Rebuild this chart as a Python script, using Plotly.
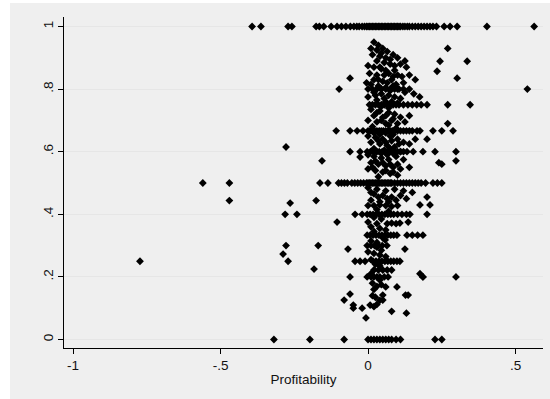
import plotly.graph_objects as go

# Profitability of firms whose share takes one of the common fractional values
prof_share_1 = [-0.393, -0.363, -0.271, -0.258, -0.176, -0.165, -0.15, -0.125, -0.105, -0.09,
                -0.075, -0.06, -0.048, -0.038, -0.03, -0.02, -0.012, -0.005, 0.0, 0.005,
                0.01, 0.015, 0.02, 0.025, 0.03, 0.035, 0.04, 0.045, 0.05, 0.055, 0.06,
                0.065, 0.07, 0.075, 0.08, 0.085, 0.09, 0.095, 0.1, 0.105, 0.11, 0.118,
                0.125, 0.133, 0.14, 0.15, 0.16, 0.17, 0.18, 0.19, 0.2, 0.21, 0.22,
                0.232, 0.258, 0.278, 0.302, 0.403, 0.563]
prof_share_0 = [-0.319, -0.197, -0.081, 0.0, 0.01, 0.02, 0.03, 0.04, 0.05, 0.06, 0.07,
                0.08, 0.095, 0.11, 0.227, 0.25]
prof_share_half = [-0.56, -0.47, -0.163, -0.136, -0.1, -0.09, -0.08, -0.07, -0.055, -0.045,
                   -0.035, -0.025, -0.015, -0.005, 0.0, 0.005, 0.01, 0.015, 0.02, 0.025,
                   0.03, 0.035, 0.04, 0.045, 0.05, 0.055, 0.06, 0.065, 0.07, 0.075, 0.08,
                   0.09, 0.1, 0.11, 0.12, 0.13, 0.14, 0.15, 0.16, 0.17, 0.18, 0.195, 0.22,
                   0.235, 0.25]
prof_share_2_3 = [-0.108, -0.061, -0.037, -0.017, 0.0, 0.007, 0.015, 0.022, 0.03, 0.038,
                  0.045, 0.052, 0.06, 0.068, 0.075, 0.082, 0.09, 0.1, 0.11, 0.12, 0.13,
                  0.14, 0.15, 0.166, 0.176, 0.22, 0.25, 0.288]
prof_share_3_4 = [0.005, 0.015, 0.025, 0.035, 0.045, 0.055, 0.065, 0.075, 0.085, 0.095,
                  0.105, 0.12, 0.135, 0.15, 0.165, 0.18, 0.2, 0.27, 0.346]
prof_share_4_5 = [-0.098, 0.0, 0.015, 0.03, 0.045, 0.06, 0.075, 0.09, 0.105, 0.12, 0.14, 0.54]
prof_share_3_5 = [-0.061, -0.027, -0.003, 0.008, 0.018, 0.028, 0.038, 0.048, 0.058, 0.068,
                  0.078, 0.09, 0.1, 0.11, 0.12, 0.132, 0.153, 0.186, 0.227, 0.298]
prof_share_2_5 = [-0.281, -0.241, -0.044, -0.02, -0.003, 0.007, 0.017, 0.027, 0.037, 0.047,
                  0.057, 0.067, 0.077, 0.087, 0.1, 0.115, 0.13, 0.142, 0.2]
prof_share_1_3 = [-0.003, 0.007, 0.017, 0.027, 0.037, 0.047, 0.057, 0.067, 0.077, 0.087,
                  0.098, 0.132, 0.15, 0.168, 0.186]
prof_share_1_4 = [-0.773, -0.271, -0.044, -0.027, -0.01, 0.017, 0.027, 0.037, 0.047, 0.057,
                  0.067, 0.077, 0.087, 0.098, 0.108]
prof_share_1_5 = [-0.061, -0.003, 0.01, 0.02, 0.03, 0.04, 0.055, 0.068, 0.186, 0.298]
prof_share_3_10 = [-0.278, -0.169, -0.003, 0.01, 0.022, 0.035, 0.048, 0.064]

# Remaining firms (profitability, share)
other_prof = [0.02, 0.035, 0.01, 0.05, 0.065, 0.015, 0.04, 0.085, 0.1, 0.03, 0.055, 0.075,
              0.11, 0.125, 0.13, 0.0, 0.02,
              0.045, 0.06, 0.09, 0.07, 0.1, 0.005, 0.03, 0.115, 0.14, 0.08, 0.05, 0.02,
              0.16, 0.12, -0.005,
              0.01, 0.035, 0.06, 0.085, 0.1, 0.125, 0.155, 0.02, 0.045, 0.07, 0.09, 0.0,
              0.11, 0.03, 0.06, 0.175,
              0.01, 0.04, 0.07, 0.09, 0.02, 0.05, 0.11, 0.14, 0.0, 0.03, 0.06, 0.08, 0.1,
              0.125, 0.27, 0.015,
              0.0, 0.025, 0.05, 0.075, 0.1, 0.12, 0.01, 0.04, 0.065, 0.09, 0.14, 0.02,
              0.055, 0.16, 0.2,
              -0.027, -0.156, 0.298, 0.25, 0.0, 0.02, 0.045, 0.07, 0.095, 0.12, 0.01, 0.035,
              0.06, 0.085, 0.11, 0.14, 0.0, 0.025, 0.05, 0.075, 0.1, 0.035, 0.24,
              0.0, 0.03, 0.06, 0.09, 0.12, 0.15, 0.02, 0.05, 0.08, 0.11, 0.13, 0.01, 0.04,
              0.07, 0.2, -0.176, -0.264, -0.47,
              0.0, 0.02, 0.04, 0.06, 0.08, 0.1, 0.176, 0.21, 0.03, 0.07,
              -0.105, 0.0, 0.065, 0.08, 0.095, 0.108, 0.136, 0.01, 0.04, 0.06, 0.02,
              0.058, 0.01, 0.03, -0.068, 0.125, 0.0, 0.02, 0.04, 0.06, -0.288,
              -0.183, 0.02, 0.035, 0.05, 0.065, 0.08, 0.176, 0.186, 0.015, 0.03, 0.045,
              0.06, 0.098, 0.02,
              -0.061, -0.081, 0.05, 0.127, 0.136, 0.05, 0.007, 0.02, 0.03, -0.05, -0.05,
              -0.02, 0.08, 0.13, -0.007,
              -0.061, 0.302, 0.234, 0.244, 0.336, 0.27, -0.278,
              0.03, 0.045, 0.06, 0.075, 0.09, 0.04, 0.055, 0.085, 0.035, 0.065, 0.095,
              0.045, 0.075, 0.025, 0.055, 0.08, 0.1, 0.045, 0.07, 0.03, 0.06, 0.085,
              0.045, 0.07, 0.095, 0.02, 0.04, 0.06, 0.085, 0.035, 0.06, 0.08, 0.105,
              0.075, 0.045, 0.065, 0.085, 0.025, 0.05, 0.075, 0.1, 0.06, 0.085, 0.015,
              0.03, 0.11,
              0.01, 0.035, 0.065, 0.095, 0.02, 0.045, 0.03, 0.05, 0.03, 0.045, 0.01,
              0.025, 0.04, 0.01, 0.04, 0.025, 0.04, 0.015]
other_share = [0.95, 0.94, 0.93, 0.93, 0.92, 0.91, 0.905, 0.91, 0.9, 0.89, 0.885, 0.88,
               0.88, 0.89, 0.87, 0.875, 0.87,
               0.865, 0.86, 0.86, 0.85, 0.845, 0.85, 0.845, 0.84, 0.845, 0.83, 0.825, 0.83,
               0.83, 0.82, 0.82,
               0.815, 0.81, 0.805, 0.81, 0.8, 0.79, 0.785, 0.79, 0.785, 0.78, 0.775, 0.775,
               0.77, 0.765, 0.76, 0.775,
               0.735, 0.73, 0.725, 0.72, 0.715, 0.71, 0.71, 0.715, 0.7, 0.695, 0.69, 0.7,
               0.69, 0.695, 0.69, 0.68,
               0.65, 0.645, 0.64, 0.65, 0.64, 0.63, 0.63, 0.625, 0.62, 0.615, 0.625, 0.61,
               0.605, 0.64, 0.64,
               0.583, 0.571, 0.571, 0.56, 0.59, 0.585, 0.58, 0.575, 0.585, 0.575, 0.565, 0.56,
               0.555, 0.55, 0.545, 0.55, 0.545, 0.54, 0.535, 0.53, 0.525, 0.52, 0.565,
               0.485, 0.48, 0.475, 0.48, 0.475, 0.47, 0.465, 0.46, 0.455, 0.46, 0.45, 0.445,
               0.44, 0.44, 0.455, 0.444, 0.436, 0.444,
               0.428, 0.428, 0.43, 0.428, 0.425, 0.428, 0.43, 0.43, 0.415, 0.41,
               0.375, 0.375, 0.37, 0.372, 0.37, 0.372, 0.375, 0.36, 0.355, 0.35, 0.345,
               0.318, 0.315, 0.31, 0.289, 0.289, 0.28, 0.275, 0.27, 0.265, 0.273,
               0.225, 0.222, 0.222, 0.222, 0.222, 0.222, 0.21, 0.2, 0.18, 0.17, 0.175,
               0.168, 0.168, 0.16,
               0.145, 0.126, 0.142, 0.142, 0.142, 0.126, 0.11, 0.105, 0.112, 0.11, 0.1,
               0.1, 0.09, 0.084, 0.069,
               0.835, 0.835, 0.857, 0.889, 0.889, 0.93, 0.615,
               0.925, 0.915, 0.9, 0.895, 0.875, 0.87, 0.845, 0.84, 0.83, 0.82, 0.815,
               0.8, 0.795, 0.78, 0.77, 0.76, 0.755, 0.745, 0.74, 0.725, 0.715, 0.705,
               0.7, 0.685, 0.675, 0.66, 0.655, 0.66, 0.655, 0.635, 0.63, 0.635, 0.625,
               0.61, 0.595, 0.59, 0.595, 0.57, 0.565, 0.56, 0.56, 0.54, 0.535, 0.55,
               0.6, 0.6,
               0.47, 0.455, 0.45, 0.445, 0.39, 0.385, 0.37, 0.325, 0.295, 0.285, 0.255,
               0.24, 0.235, 0.21, 0.19, 0.135, 0.125, 0.14]

levels = [
    (1.0, prof_share_1), (0.0, prof_share_0), (0.5, prof_share_half),
    (2 / 3, prof_share_2_3), (0.75, prof_share_3_4), (0.8, prof_share_4_5),
    (0.6, prof_share_3_5), (0.4, prof_share_2_5), (1 / 3, prof_share_1_3),
    (0.25, prof_share_1_4), (0.2, prof_share_1_5), (0.3, prof_share_3_10),
]

xs, ys = [], []
for share, profs in levels:
    xs.extend(profs)
    ys.extend([share] * len(profs))
xs.extend(other_prof)
ys.extend(other_share)

fig = go.Figure(go.Scatter(
    x=xs, y=ys, mode="markers",
    marker=dict(symbol="diamond", size=6, color="black", line=dict(width=0)),
    showlegend=False, hoverinfo="x+y",
))

axis_font = dict(family="Liberation Sans, Arial, sans-serif", size=13.5, color="#111111")

fig.update_layout(
    width=550, height=399,
    margin=dict(l=64, r=7, t=17, b=51),
    paper_bgcolor="white", plot_bgcolor="white",
    font=axis_font,
    shapes=[dict(type="rect", xref="paper", yref="paper",
                 x0=-54 / 479, x1=1.1, y0=-1.0, y1=1 + 14 / 331,
                 fillcolor="#efefef", line=dict(width=0), layer="below")],
    xaxis=dict(
        range=[-1.0305, 0.593],
        tickvals=[-1, -0.5, 0, 0.5], ticktext=["-1", "-.5", "0", ".5"],
        ticks="outside", ticklen=5, tickcolor="black", tickwidth=1,
        showline=True, linecolor="black", linewidth=1,
        showgrid=False, zeroline=False,
        title=dict(text="Profitability", standoff=2, font=axis_font),
    ),
    yaxis=dict(
        range=[-0.0272, 1.0304],
        tickvals=[0, 0.2, 0.4, 0.6, 0.8, 1], ticktext=["0", ".2", ".4", ".6", ".8", "1"],
        tickangle=-90,
        ticks="outside", ticklen=5, tickcolor="black", tickwidth=1,
        showline=True, linecolor="black", linewidth=1,
        showgrid=True, gridcolor="#e6e6e6", gridwidth=1, zeroline=False,
    ),
)

fig.write_html("out.html")
